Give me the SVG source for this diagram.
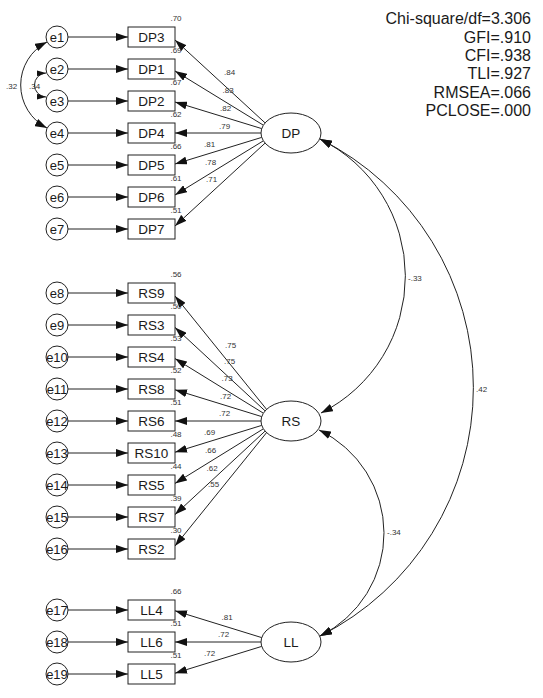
<svg xmlns="http://www.w3.org/2000/svg" width="543" height="698" viewBox="0 0 543 698">
<style>
text{font-family:"Liberation Sans",Arial,sans-serif;fill:#1a1a1a}
.nt{font-size:13.5px;text-anchor:middle}
.et{font-size:13px;text-anchor:middle}
.sm{font-size:8px;fill:#333}
.smc{font-size:8px;fill:#333;text-anchor:middle}
.st{font-size:16px;text-anchor:end}
.box{fill:#fff;stroke:#222;stroke-width:1}
.ln{fill:none;stroke:#222;stroke-width:1}
</style>
<defs>
<marker id="ah" viewBox="0 0 12 8" refX="12" refY="4" markerWidth="12" markerHeight="8" markerUnits="userSpaceOnUse" orient="auto-start-reverse"><path d="M0,0 L12,4 L0,8 z" fill="#111"/></marker>
<marker id="as" viewBox="0 0 9 6" refX="9" refY="3" markerWidth="9" markerHeight="6" markerUnits="userSpaceOnUse" orient="auto-start-reverse"><path d="M0,0 L9,3 L0,6 z" fill="#111"/></marker>
</defs>

<g id="connectors">
<!-- error arrows -->
<g class="ln" marker-end="url(#ah)">
<path d="M68,37 H128"/><path d="M68,69 H128"/><path d="M68,101 H128"/><path d="M68,133 H128"/>
<path d="M68,165 H128"/><path d="M68,197 H128"/><path d="M68,229 H128"/>
<path d="M68,293 H128"/><path d="M68,325 H128"/><path d="M68,357 H128"/><path d="M68,389 H128"/>
<path d="M68,421 H128"/><path d="M68,453 H128"/><path d="M68,485 H128"/><path d="M68,517 H128"/><path d="M68,549 H128"/>
<path d="M68,610 H128"/><path d="M68,642 H128"/><path d="M68,674 H128"/>
</g>
<!-- loadings -->
<g class="ln" marker-end="url(#ah)">
<path d="M265.1,122.9 L175,40"/><path d="M263.4,125.2 L175,71"/><path d="M261.7,128.6 L175,102"/>
<path d="M261,133 L175,133"/><path d="M261.7,137.4 L175,164"/><path d="M263.4,140.8 L175,195"/><path d="M265.1,143.1 L175,226"/>
<path d="M266.6,409.4 L175,296"/><path d="M265.1,410.9 L175,327.4"/><path d="M263.4,413.2 L175,358.6"/><path d="M261.7,416.6 L175,389.8"/>
<path d="M261,421 L175,421"/><path d="M261.7,425.4 L175,452.2"/><path d="M263.4,428.8 L175,483.4"/><path d="M265.1,431.1 L175,514.6"/><path d="M266.6,432.6 L175,546"/>
<path d="M261.7,637.6 L175,610.8"/><path d="M261,642 L175,642"/><path d="M261.7,646.4 L175,673.2"/>
</g>
<!-- covariances -->
<g class="ln" marker-start="url(#ah)" marker-end="url(#ah)">
<path d="M320,139 A153,153 0 0 1 321,413"/>
<path d="M320,139 A278,278 0 0 1 320,636"/>
<path d="M319,430 A114.5,114.5 0 0 1 320,636"/>
<path d="M47,42 A48.3,48.3 0 0 0 47,128"/>
</g>
<path class="ln" d="M46,73 A12.01,12.01 0 0 0 46,97" marker-start="url(#as)" marker-end="url(#as)"/>
<!-- labels -->
<text class="sm" x="224" y="74.5">.84</text>
<text class="sm" x="222.5" y="93">.83</text>
<text class="sm" x="220" y="110.5">.82</text>
<text class="sm" x="219" y="129">.79</text>
<text class="sm" x="204" y="147">.81</text>
<text class="sm" x="205" y="164.5">.78</text>
<text class="sm" x="206" y="182">.71</text>
<text class="sm" x="225" y="348">.75</text>
<text class="sm" x="224" y="363.5">.75</text>
<text class="sm" x="221.5" y="380.5">.73</text>
<text class="sm" x="220" y="398.5">.72</text>
<text class="sm" x="219" y="416">.72</text>
<text class="sm" x="204" y="434.5">.69</text>
<text class="sm" x="205" y="453">.66</text>
<text class="sm" x="206.5" y="470.5">.62</text>
<text class="sm" x="208" y="487">.55</text>
<text class="sm" x="221.5" y="619.5">.81</text>
<text class="sm" x="218" y="637">.72</text>
<text class="sm" x="204" y="655.5">.72</text>
<text class="sm" x="6" y="89">.32</text>
<text class="sm" x="29" y="89">.34</text>
<text class="sm" x="408" y="280.5">-.33</text>
<text class="sm" x="476" y="392">.42</text>
<text class="sm" x="387" y="535">-.34</text>
</g>

<g id="smc">
<text class="smc" x="176" y="21">.70</text>
<text class="smc" x="176" y="53">.69</text>
<text class="smc" x="176" y="85">.67</text>
<text class="smc" x="176" y="117">.62</text>
<text class="smc" x="176" y="149">.66</text>
<text class="smc" x="176" y="181">.61</text>
<text class="smc" x="176" y="213">.51</text>
<text class="smc" x="176" y="277">.56</text>
<text class="smc" x="176" y="309">.50</text>
<text class="smc" x="176" y="341">.53</text>
<text class="smc" x="176" y="373">.52</text>
<text class="smc" x="176" y="405">.51</text>
<text class="smc" x="176" y="437">.48</text>
<text class="smc" x="176" y="469">.44</text>
<text class="smc" x="176" y="501">.39</text>
<text class="smc" x="176" y="533">.30</text>
<text class="smc" x="176" y="594">.66</text>
<text class="smc" x="176" y="626">.51</text>
<text class="smc" x="176" y="658">.51</text>
</g>

<g id="errors">
<g id="e1"><circle class="box" cx="57" cy="37" r="11"/><text class="et" x="57" y="41.5">e1</text></g>
<g id="e2"><circle class="box" cx="57" cy="69" r="11"/><text class="et" x="57" y="73.5">e2</text></g>
<g id="e3"><circle class="box" cx="57" cy="101" r="11"/><text class="et" x="57" y="105.5">e3</text></g>
<g id="e4"><circle class="box" cx="57" cy="133" r="11"/><text class="et" x="57" y="137.5">e4</text></g>
<g id="e5"><circle class="box" cx="57" cy="165" r="11"/><text class="et" x="57" y="169.5">e5</text></g>
<g id="e6"><circle class="box" cx="57" cy="197" r="11"/><text class="et" x="57" y="201.5">e6</text></g>
<g id="e7"><circle class="box" cx="57" cy="229" r="11"/><text class="et" x="57" y="233.5">e7</text></g>
<g id="e8"><circle class="box" cx="57" cy="293" r="11"/><text class="et" x="57" y="297.5">e8</text></g>
<g id="e9"><circle class="box" cx="57" cy="325" r="11"/><text class="et" x="57" y="329.5">e9</text></g>
<g id="e10"><circle class="box" cx="57" cy="357" r="11"/><text class="et" x="57" y="361.5">e10</text></g>
<g id="e11"><circle class="box" cx="57" cy="389" r="11"/><text class="et" x="57" y="393.5">e11</text></g>
<g id="e12"><circle class="box" cx="57" cy="421" r="11"/><text class="et" x="57" y="425.5">e12</text></g>
<g id="e13"><circle class="box" cx="57" cy="453" r="11"/><text class="et" x="57" y="457.5">e13</text></g>
<g id="e14"><circle class="box" cx="57" cy="485" r="11"/><text class="et" x="57" y="489.5">e14</text></g>
<g id="e15"><circle class="box" cx="57" cy="517" r="11"/><text class="et" x="57" y="521.5">e15</text></g>
<g id="e16"><circle class="box" cx="57" cy="549" r="11"/><text class="et" x="57" y="553.5">e16</text></g>
<g id="e17"><circle class="box" cx="57" cy="610" r="11"/><text class="et" x="57" y="614.5">e17</text></g>
<g id="e18"><circle class="box" cx="57" cy="642" r="11"/><text class="et" x="57" y="646.5">e18</text></g>
<g id="e19"><circle class="box" cx="57" cy="674" r="11"/><text class="et" x="57" y="678.5">e19</text></g>
</g>

<g id="indicators">
<g id="DP3"><rect class="box" x="128" y="27" width="47" height="20"/><text class="nt" x="151.5" y="41.7">DP3</text></g>
<g id="DP1"><rect class="box" x="128" y="59" width="47" height="20"/><text class="nt" x="151.5" y="73.7">DP1</text></g>
<g id="DP2"><rect class="box" x="128" y="91" width="47" height="20"/><text class="nt" x="151.5" y="105.7">DP2</text></g>
<g id="DP4"><rect class="box" x="128" y="123" width="47" height="20"/><text class="nt" x="151.5" y="137.7">DP4</text></g>
<g id="DP5"><rect class="box" x="128" y="155" width="47" height="20"/><text class="nt" x="151.5" y="169.7">DP5</text></g>
<g id="DP6"><rect class="box" x="128" y="187" width="47" height="20"/><text class="nt" x="151.5" y="201.7">DP6</text></g>
<g id="DP7"><rect class="box" x="128" y="219" width="47" height="20"/><text class="nt" x="151.5" y="233.7">DP7</text></g>
<g id="RS9"><rect class="box" x="128" y="283" width="47" height="20"/><text class="nt" x="151.5" y="297.7">RS9</text></g>
<g id="RS3"><rect class="box" x="128" y="315" width="47" height="20"/><text class="nt" x="151.5" y="329.7">RS3</text></g>
<g id="RS4"><rect class="box" x="128" y="347" width="47" height="20"/><text class="nt" x="151.5" y="361.7">RS4</text></g>
<g id="RS8"><rect class="box" x="128" y="379" width="47" height="20"/><text class="nt" x="151.5" y="393.7">RS8</text></g>
<g id="RS6"><rect class="box" x="128" y="411" width="47" height="20"/><text class="nt" x="151.5" y="425.7">RS6</text></g>
<g id="RS10"><rect class="box" x="128" y="443" width="47" height="20"/><text class="nt" x="151.5" y="457.7">RS10</text></g>
<g id="RS5"><rect class="box" x="128" y="475" width="47" height="20"/><text class="nt" x="151.5" y="489.7">RS5</text></g>
<g id="RS7"><rect class="box" x="128" y="507" width="47" height="20"/><text class="nt" x="151.5" y="521.7">RS7</text></g>
<g id="RS2"><rect class="box" x="128" y="539" width="47" height="20"/><text class="nt" x="151.5" y="553.7">RS2</text></g>
<g id="LL4"><rect class="box" x="128" y="600" width="47" height="20"/><text class="nt" x="151.5" y="614.7">LL4</text></g>
<g id="LL6"><rect class="box" x="128" y="632" width="47" height="20"/><text class="nt" x="151.5" y="646.7">LL6</text></g>
<g id="LL5"><rect class="box" x="128" y="664" width="47" height="20"/><text class="nt" x="151.5" y="678.7">LL5</text></g>
</g>

<g id="latents">
<g id="DP"><ellipse class="box" cx="291" cy="133" rx="30" ry="20"/><text class="nt" x="291" y="137.7">DP</text></g>
<g id="RS"><ellipse class="box" cx="291" cy="421" rx="30" ry="20"/><text class="nt" x="291" y="425.7">RS</text></g>
<g id="LL"><ellipse class="box" cx="291" cy="642" rx="30" ry="20"/><text class="nt" x="291" y="646.7">LL</text></g>
</g>

<g id="fit">
<text class="st" x="531" y="24.3">Chi-square/df=3.306</text>
<text class="st" x="531" y="42.7">GFI=.910</text>
<text class="st" x="531" y="61">CFI=.938</text>
<text class="st" x="531" y="79.4">TLI=.927</text>
<text class="st" x="531" y="97.8">RMSEA=.066</text>
<text class="st" x="531" y="116.2">PCLOSE=.000</text>
</g>
</svg>
